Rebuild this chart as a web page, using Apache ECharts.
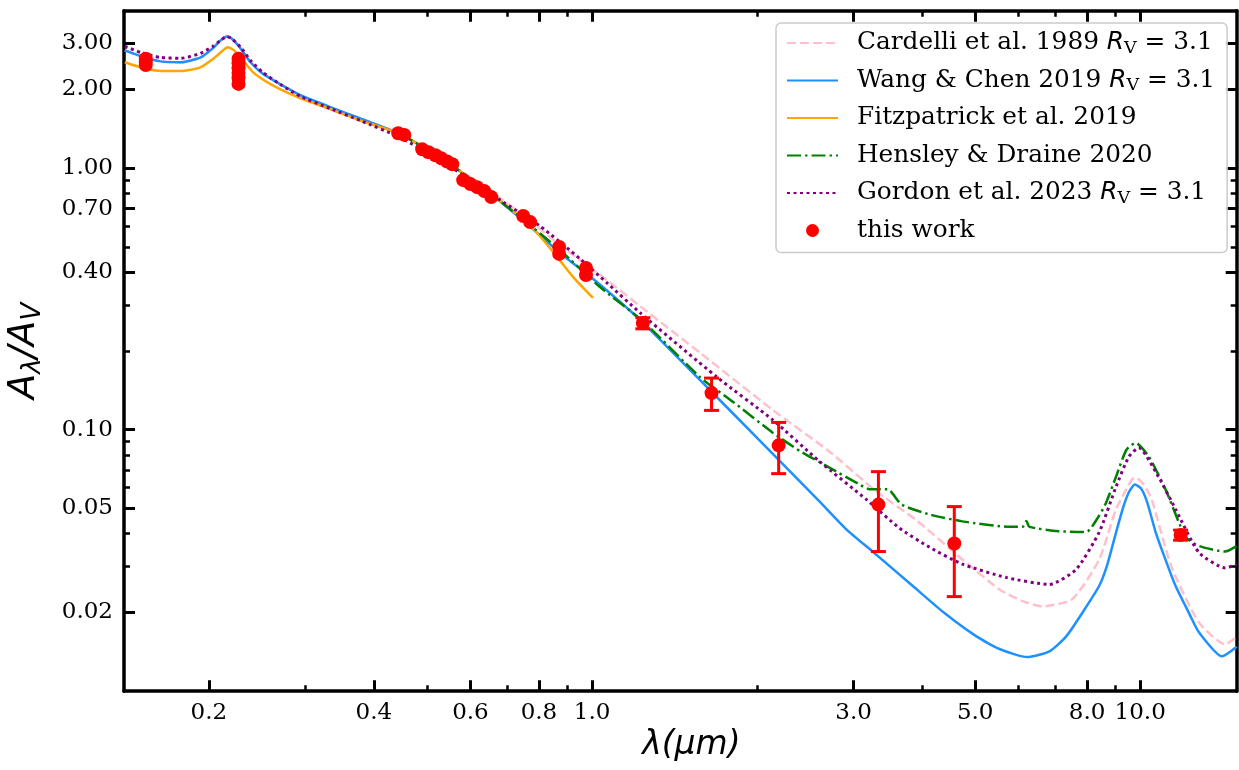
<!DOCTYPE html>
<html>
<head>
<meta charset="utf-8">
<script src="https://cdn.jsdelivr.net/npm/echarts@6/dist/echarts.min.js"></script>
<style>
  html, body { margin: 0; padding: 0; background: #fff; }
  #chart { width: 1239px; height: 770px; }
</style>
</head>
<body>
<div id="chart"></div>
<script>
// [wavelength (um), A_lambda / A_V]
var cardelli = [
  [0.1405, 2.82], [0.1502, 2.68], [0.1633, 2.56], [0.1777, 2.54], [0.1932, 2.65], [0.2032, 2.87],
  [0.2101, 3.08], [0.2155, 3.19], [0.2200, 3.13], [0.2285, 2.87], [0.2382, 2.54], [0.2505, 2.30],
  [0.2702, 2.09], [0.2938, 1.90], [0.3332, 1.71], [0.3779, 1.55], [0.4468, 1.35], [0.5285, 1.10],
  [0.6252, 0.869], [0.7395, 0.673], [0.874, 0.508], [1.065, 0.373], [1.223, 0.297], [1.573, 0.197],
  [2.136, 0.119], [2.713, 0.0824], [3.303, 0.058], [3.91, 0.045], [4.740, 0.0319], [5.537, 0.0245],
  [6.10, 0.0221], [6.63, 0.0211], [7.52, 0.0225], [8.42, 0.0319], [9.04, 0.0497], [9.66, 0.0645],
  [9.82, 0.0655], [10.15, 0.0617], [10.50, 0.054], [11.4, 0.030], [12.8, 0.0183], [14.3, 0.0151],
  [15.0, 0.0162]
];
var wangChen = [
  [0.1405, 2.82], [0.1502, 2.68], [0.1633, 2.56], [0.1777, 2.54], [0.1932, 2.65], [0.2032, 2.87],
  [0.2101, 3.08], [0.2155, 3.19], [0.2200, 3.13], [0.2285, 2.87], [0.2382, 2.54], [0.2505, 2.30],
  [0.2702, 2.09], [0.2938, 1.90], [0.3332, 1.71], [0.3779, 1.55], [0.4468, 1.35], [0.5285, 1.10],
  [0.6252, 0.854], [0.7395, 0.645], [0.874, 0.474], [1.0, 0.380], [1.223, 0.263], [1.573, 0.155],
  [2.023, 0.0908], [2.602, 0.0531], [2.914, 0.0415], [3.249, 0.0342], [3.843, 0.0253], [4.395, 0.0199],
  [5.027, 0.0162], [5.537, 0.0145], [6.22, 0.0135], [6.83, 0.0142], [7.33, 0.0162], [7.85, 0.0200],
  [8.42, 0.0253], [8.71, 0.0305], [9.04, 0.0406], [9.31, 0.0504], [9.55, 0.058], [9.78, 0.0617],
  [10.04, 0.0595], [10.30, 0.0527], [10.67, 0.0406], [11.10, 0.0322], [11.6, 0.0253], [12.29, 0.0198],
  [12.8, 0.0168], [14.1, 0.0136], [15.0, 0.0148]
];
var fitzpatrick = [
  [0.1405, 2.54], [0.1502, 2.43], [0.1633, 2.35], [0.1777, 2.35], [0.1932, 2.43], [0.2032, 2.61],
  [0.2101, 2.77], [0.2165, 2.90], [0.2223, 2.82], [0.2308, 2.58], [0.2406, 2.33], [0.2538, 2.15],
  [0.2702, 2.00], [0.2938, 1.85], [0.3332, 1.68], [0.3779, 1.52], [0.4468, 1.35], [0.5285, 1.10],
  [0.6252, 0.854], [0.7395, 0.65], [0.794, 0.565], [0.864, 0.457], [0.923, 0.384], [1.004, 0.319]
];
var hensley = [
  [0.4468, 1.35], [0.5285, 1.10], [0.6252, 0.854], [0.7395, 0.65], [0.874, 0.486], [1.034, 0.351],
  [1.238, 0.26], [1.573, 0.159], [1.806, 0.128], [2.136, 0.0974], [2.392, 0.083], [2.71, 0.0716],
  [3.077, 0.0617], [3.208, 0.0592], [3.460, 0.0592], [3.670, 0.0517], [4.128, 0.0474], [4.740, 0.0446],
  [5.77, 0.0425], [6.10, 0.0425], [6.20, 0.0448], [6.28, 0.0425], [7.11, 0.0409], [7.97, 0.0406],
  [8.42, 0.047], [8.67, 0.0527], [9.04, 0.0663], [9.44, 0.0838], [9.82, 0.089], [10.37, 0.0788],
  [11.12, 0.0592], [12.1, 0.0389], [12.8, 0.0359], [14.3, 0.0342], [15.0, 0.0359]
];
var gordon = [
  [0.1405, 2.92], [0.1502, 2.77], [0.1633, 2.65], [0.1777, 2.63], [0.1932, 2.75], [0.2032, 2.92],
  [0.2101, 3.08], [0.2155, 3.19], [0.2200, 3.13], [0.2285, 2.90], [0.2382, 2.58], [0.2505, 2.33],
  [0.2702, 2.09], [0.2938, 1.88], [0.3332, 1.69], [0.3779, 1.52], [0.4468, 1.31], [0.5285, 1.07],
  [0.6252, 0.854], [0.680, 0.755], [0.804, 0.60], [0.951, 0.45], [1.065, 0.364], [1.223, 0.28],
  [1.689, 0.159], [2.136, 0.109], [2.602, 0.0755], [3.168, 0.054], [3.639, 0.042], [4.128, 0.0355],
  [4.740, 0.0306], [5.70, 0.0272], [6.83, 0.0256], [7.64, 0.0292], [8.42, 0.0406], [9.04, 0.0607],
  [9.54, 0.079], [9.94, 0.0853], [10.80, 0.066], [11.6, 0.0497], [12.8, 0.0339], [14.3, 0.0296],
  [15.0, 0.0305]
];
var thisWork = [
  [0.1534, 2.62], [0.1534, 2.55], [0.1534, 2.48],
  [0.2265, 2.62], [0.2265, 2.52], [0.2265, 2.41], [0.2265, 2.31], [0.2265, 2.21], [0.2265, 2.10],
  [0.443, 1.36], [0.4545, 1.34],
  [0.490, 1.18], [0.503, 1.15], [0.518, 1.12], [0.531, 1.09], [0.544, 1.06], [0.556, 1.035],
  [0.582, 0.90], [0.600, 0.869], [0.617, 0.846], [0.636, 0.817], [0.655, 0.775],
  [0.749, 0.656], [0.771, 0.622], [0.871, 0.50], [0.871, 0.47], [0.975, 0.415], [0.975, 0.39],
  [1.238, 0.256], [1.652, 0.138], [2.19, 0.0871], [3.33, 0.0517], [4.58, 0.0367], [11.85, 0.0396]
];
var errLambda = [1.238, 1.652, 2.19, 3.33, 4.58, 11.85];
var errLow = [0.243, 0.1185, 0.0679, 0.0342, 0.0230, 0.0378];
var errHigh = [0.268, 0.1575, 0.1066, 0.0691, 0.0508, 0.0413];

var xMajor = [0.2, 0.4, 0.6, 0.8, 1.0, 3.0, 5.0, 8.0, 10.0];
var xMinor = [0.3, 0.5, 0.7, 0.9, 2.0, 4.0, 6.0, 7.0, 9.0];
var yMajor = [0.02, 0.05, 0.1, 0.4, 0.7, 1.0, 2.0, 3.0];
var yMinor = [0.03, 0.04, 0.06, 0.07, 0.08, 0.09, 0.2, 0.3, 0.5, 0.6, 0.8, 0.9];

var names = [
  'Cardelli et al. 1989 RV = 3.1',
  'Wang & Chen 2019 RV = 3.1',
  'Fitzpatrick et al. 2019',
  'Hensley & Draine 2020',
  'Gordon et al. 2023 RV = 3.1',
  'this work'
];

var chart = echarts.init(document.getElementById('chart'));

function tickAxis (pos, values, len, width, withLine)
{
  return {
    type: 'log',
    logBase: 10,
    position: pos,
    axisLine: { show: withLine, onZero: false, lineStyle: { color: '#000', width: 3.5 } },
    axisTick: { show: true, inside: true, length: len, customValues: values, lineStyle: { color: '#000', width: width } },
    axisLabel: { show: false },
    splitLine: { show: false },
    minorTick: { show: false },
    minorSplitLine: { show: false }
  };
}

var xAxes = [
  tickAxis('bottom', xMajor, 11, 3, true),
  tickAxis('bottom', xMinor, 6, 2.5, false),
  tickAxis('top', xMajor, 11, 3, true),
  tickAxis('top', xMinor, 6, 2.5, false)
];
var yAxes = [
  tickAxis('left', yMajor, 11, 3, true),
  tickAxis('left', yMinor, 6, 2.5, false),
  tickAxis('right', yMajor, 11, 3, true),
  tickAxis('right', yMinor, 6, 2.5, false)
];
xAxes.forEach(function (a) { a.min = 0.14; a.max = 15; });
yAxes.forEach(function (a) { a.min = 0.01; a.max = 4; });

xAxes[0].axisLabel = {
  show: true, customValues: xMajor, margin: 10,
  fontFamily: 'DejaVu Serif', fontSize: 23, color: '#000',
  formatter: function (v) { return Number(v).toFixed(1); }
};
xAxes[0].name = 'λ(μm)';
xAxes[0].nameLocation = 'middle';
xAxes[0].nameGap = 35;
xAxes[0].nameTextStyle = {
  fontFamily: 'DejaVu Sans', fontStyle: 'italic', fontSize: 33, color: '#000',
  verticalAlign: 'top', padding: [0, 0, 0, 22]
};

yAxes[0].axisLabel = {
  show: true, customValues: yMajor, margin: 11,
  fontFamily: 'DejaVu Serif', fontSize: 23, color: '#000',
  formatter: function (v) { return Number(v).toFixed(2); }
};
yAxes[0].name = '{a|A}{s|λ}{a|/A}{s|V}';
yAxes[0].nameLocation = 'middle';
yAxes[0].nameGap = 78;
yAxes[0].nameRotate = 90;
yAxes[0].nameTextStyle = {
  color: '#000',
  rich: {
    a: { fontFamily: 'DejaVu Sans', fontStyle: 'italic', fontSize: 37, lineHeight: 44, color: '#000' },
    s: { fontFamily: 'DejaVu Sans', fontStyle: 'italic', fontSize: 26, lineHeight: 22, verticalAlign: 'bottom', color: '#000' }
  }
};

function lineSeries (name, data, color, type, width, z)
{
  return {
    name: name,
    type: 'line',
    data: data,
    symbol: 'none',
    smooth: 0.2,
    z: z,
    itemStyle: { color: color },
    lineStyle: { color: color, width: width, type: type }
  };
}

// line entries: hide the symbol that the legend draws on the line sample
var legendData = names.map(function (n, i)
{
  if (i === 5) return { name: n };
  return { name: n, itemStyle: { opacity: 0, color: 'rgba(0,0,0,0)', borderWidth: 0 } };
});

var option = {
  animation: false,
  textStyle: { fontFamily: 'DejaVu Serif' },
  grid: { left: 124, right: 2.3, top: 10.7, bottom: 78.8, outerBoundsMode: 'none' },
  xAxis: xAxes,
  yAxis: yAxes,
  legend: {
    orient: 'vertical',
    left: 776,
    top: 23,
    data: legendData,
    selectedMode: false,
    itemWidth: 51,
    itemHeight: 13,
    itemGap: 9.5,
    padding: [6, 12, 8, 10],
    backgroundColor: 'rgba(255,255,255,0.8)',
    borderColor: '#cccccc',
    borderWidth: 1.5,
    borderRadius: 5,
    formatter: function (name)
    {
      return name.replace('RV', '{i|R}{s|V}');
    },
    textStyle: {
      fontFamily: 'DejaVu Serif',
      fontSize: 24.8,
      lineHeight: 28,
      color: '#000',
      padding: [0, 0, 0, 14],
      rich: {
        i: { fontFamily: 'DejaVu Sans', fontStyle: 'italic', fontSize: 24.8, lineHeight: 28, color: '#000' },
        s: { fontFamily: 'DejaVu Serif', fontSize: 17.5, lineHeight: 14, verticalAlign: 'bottom', color: '#000' }
      }
    }
  },
  series: [
    lineSeries(names[0], cardelli, '#ffc0cb', [9, 4], 2.5, 2),
    lineSeries(names[1], wangChen, '#1e90ff', 'solid', 2.5, 3),
    lineSeries(names[2], fitzpatrick, '#ffa500', 'solid', 2.5, 4),
    lineSeries(names[3], hensley, '#008000', [14, 4, 2.5, 4], 2.5, 5),
    lineSeries(names[4], gordon, '#800080', [3, 3.5], 3, 6),
    {
      name: 'err',
      type: 'custom',
      z: 7,
      data: errLambda.map(function (x, i) { return [x, errLow[i], errHigh[i]]; }),
      encode: { x: 0, y: [1, 2] },
      renderItem: function (params, api)
      {
        var x = api.value(0);
        var top = api.coord([x, api.value(2)]);
        var bot = api.coord([x, api.value(1)]);
        var half = 7.5;
        var st = { stroke: '#ff0000', lineWidth: 3 };
        return {
          type: 'group',
          children: [
            { type: 'line', shape: { x1: top[0], y1: top[1], x2: bot[0], y2: bot[1] }, style: st },
            { type: 'line', shape: { x1: top[0] - half, y1: top[1], x2: top[0] + half, y2: top[1] }, style: st },
            { type: 'line', shape: { x1: bot[0] - half, y1: bot[1], x2: bot[0] + half, y2: bot[1] }, style: st }
          ]
        };
      }
    },
    {
      name: names[5],
      type: 'scatter',
      z: 8,
      data: thisWork,
      symbol: 'circle',
      symbolSize: 14,
      itemStyle: { color: '#ff0000', opacity: 1 }
    }
  ]
};

chart.setOption(option);
</script>
</body>
</html>
